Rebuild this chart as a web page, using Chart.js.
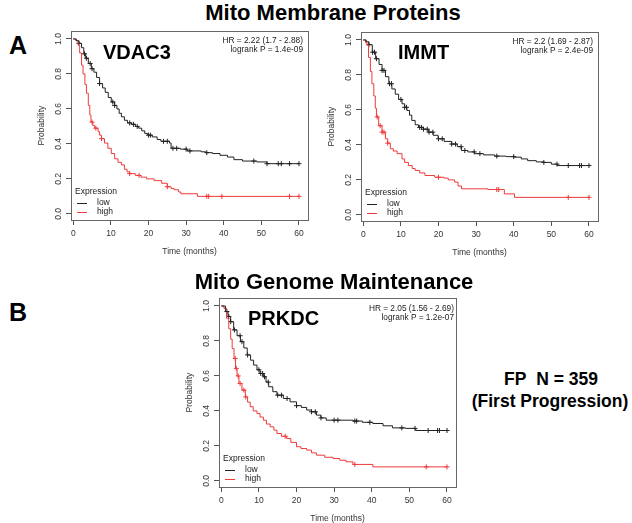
<!DOCTYPE html>
<html>
<head>
<meta charset="utf-8">
<script src="https://cdn.jsdelivr.net/npm/chart.js@4.4.1/dist/chart.umd.min.js"></script>
<style>
  body { margin: 0; width: 632px; height: 523px; background: #fff; position: relative; overflow: hidden;
         font-family: "Liberation Sans", Arial, sans-serif; }
  canvas { position: absolute; }
  .t { position: absolute; white-space: nowrap; line-height: 1; color: #000; font-weight: bold; }
  .c { transform: translate(-50%, -50%); }
  .l { transform: translate(0, -50%); }
  .hr { position: absolute; white-space: nowrap; line-height: 1; color: #222; font-size: 8.3px;
        transform: translate(-100%, -50%); text-align: right; }
</style>
</head>
<body>
<canvas id="vdac3" width="285" height="234" style="left:35px; top:25px;"></canvas>
<canvas id="immt" width="285" height="234" style="left:325px; top:26px;"></canvas>
<canvas id="prkdc" width="285" height="234" style="left:183px; top:292px;"></canvas>

<div class="t c" style="left:333px; top:13px; font-size:22px;">Mito Membrane Proteins</div>
<div class="t l" style="left:9px; top:45px; font-size:25px;">A</div>
<div class="t c" style="left:334px; top:282px; font-size:22px;">Mito Genome Maintenance</div>
<div class="t l" style="left:9px; top:312px; font-size:25px;">B</div>
<div class="t c" style="left:551px; top:380px; font-size:17.5px;">FP&nbsp; N = 359</div>
<div class="t c" style="left:550px; top:402px; font-size:17.5px;">(First Progression)</div>

<div class="t l" style="left:103px; top:52px; font-size:20px;">VDAC3</div>
<div class="t l" style="left:398px; top:52px; font-size:20px;">IMMT</div>
<div class="t l" style="left:248px; top:318px; font-size:20px;">PRKDC</div>

<div class="hr" style="left:303px; top:40px;">HR = 2.22 (1.7 - 2.88)</div>
<div class="hr" style="left:303px; top:49px;">logrank P = 1.4e-09</div>
<div class="hr" style="left:593px; top:41px;">HR = 2.2 (1.69 - 2.87)</div>
<div class="hr" style="left:593px; top:50px;">logrank P = 2.4e-09</div>
<div class="hr" style="left:454px; top:308px;">HR = 2.05 (1.56 - 2.69)</div>
<div class="hr" style="left:454px; top:317px;">logrank P = 1.2e-07</div>

<script>
// ticks and groups
const timeTicks = [0, 10, 20, 30, 40, 50, 60];
const probTicks = [0, 0.2, 0.4, 0.6, 0.8, 1.0];
const groups = ['low', 'high'];

// VDAC3 - survival steps (time in months, probability) and censor times
const vdac3LowT = [0, 0.8, 1.5, 2.2, 2.8, 3.3, 4.0, 4.8, 5.5, 6.2, 7.0, 7.8, 8.5, 9.3, 10.1, 11.0, 11.6, 12.2, 12.8, 13.6, 14.4, 15.5, 16.5, 17.4, 18.2, 19.0, 19.8, 21.0, 22.3, 23.3, 25.6, 26.0, 28.5, 30.3, 34.0, 35.2, 37.0, 39.0, 41.0, 42.7, 45.0, 48.8, 51.5, 60];
const vdac3LowS = [1, 0.99, 0.975, 0.95, 0.915, 0.89, 0.86, 0.83, 0.81, 0.78, 0.745, 0.72, 0.695, 0.665, 0.64, 0.62, 0.6, 0.575, 0.555, 0.535, 0.52, 0.512, 0.5, 0.49, 0.475, 0.46, 0.45, 0.44, 0.425, 0.415, 0.405, 0.375, 0.37, 0.36, 0.355, 0.35, 0.345, 0.335, 0.325, 0.31, 0.302, 0.297, 0.287, 0.287];
const vdac3LowCens = [1.5, 3, 3.5, 4.5, 5, 7, 10.5, 11, 15, 16, 17, 20, 20.5, 24, 25, 26.5, 27.5, 30, 31, 35.5, 48, 51.5, 54.5, 55.3, 57.5, 60];
const vdac3HighT = [0, 0.7, 1.3, 1.7, 2.2, 2.6, 3.1, 3.5, 4.0, 4.4, 4.7, 5.2, 5.7, 6.6, 7.0, 7.5, 8.3, 9.2, 10.1, 11.0, 11.9, 12.8, 13.6, 14.3, 15.0, 16.5, 18.0, 19.5, 21.5, 23.5, 25.0, 26.0, 26.8, 28.0, 28.6, 33.0, 60];
const vdac3HighS = [1, 0.99, 0.965, 0.92, 0.85, 0.8, 0.74, 0.69, 0.62, 0.565, 0.525, 0.505, 0.49, 0.47, 0.45, 0.43, 0.405, 0.375, 0.345, 0.315, 0.295, 0.28, 0.255, 0.24, 0.23, 0.22, 0.21, 0.2, 0.19, 0.175, 0.155, 0.145, 0.138, 0.125, 0.115, 0.1, 0.1];
const vdac3HighCens = [5, 6, 7.5, 15, 17.5, 25, 35.5, 36, 39.5, 57.5, 60];

// IMMT
const immtLowT = [0, 0.8, 1.5, 2.4, 3.3, 4.2, 5.0, 5.9, 6.8, 7.6, 8.5, 9.4, 10.3, 11.0, 11.6, 12.3, 12.9, 13.8, 14.7, 16.0, 17.3, 18.6, 19.9, 21.5, 23.5, 25.0, 26.1, 27.8, 29.6, 32.0, 34.9, 38.0, 40.2, 42.0, 43.7, 46.0, 48.0, 50.0, 51.6, 60];
const immtLowS = [1, 0.99, 0.973, 0.93, 0.893, 0.86, 0.826, 0.79, 0.75, 0.72, 0.69, 0.66, 0.635, 0.615, 0.597, 0.57, 0.54, 0.515, 0.5, 0.49, 0.473, 0.455, 0.435, 0.42, 0.405, 0.39, 0.368, 0.36, 0.35, 0.343, 0.336, 0.333, 0.33, 0.32, 0.31, 0.303, 0.3, 0.29, 0.282, 0.282];
const immtLowCens = [1.5, 2.5, 3, 3.5, 5, 5.5, 7, 7.5, 10, 11, 11.5, 15, 15.5, 16, 17, 17.5, 18.5, 20, 21, 23.5, 24.5, 26, 27, 29.5, 31, 35.5, 40, 48, 51.5, 54.5, 57.5, 58, 60];
const immtHighT = [0, 0.6, 1.0, 1.4, 1.9, 2.3, 2.8, 3.2, 3.5, 4.1, 5.0, 5.9, 6.5, 7.2, 8.0, 9.0, 10.3, 11.0, 12.0, 13.0, 13.8, 15.0, 16.4, 19.0, 21.5, 22.6, 24.3, 25.2, 26.1, 33.1, 37.5, 40.2, 60];
const immtHighS = [1, 0.985, 0.97, 0.9, 0.82, 0.75, 0.68, 0.61, 0.56, 0.51, 0.473, 0.435, 0.41, 0.378, 0.365, 0.35, 0.32, 0.3, 0.282, 0.265, 0.254, 0.24, 0.225, 0.215, 0.21, 0.2, 0.187, 0.165, 0.149, 0.145, 0.12, 0.1, 0.1];
const immtHighCens = [3.7, 4.5, 5, 5.5, 6.5, 20, 35.5, 36, 54.5, 60];

// PRKDC
const prkdcLowT = [0, 1.1, 1.8, 2.5, 3.3, 4.2, 5.1, 6.0, 6.9, 7.8, 8.6, 9.5, 10.3, 11.2, 11.9, 12.6, 13.7, 14.8, 16.5, 18.3, 20.0, 21.3, 22.7, 24.0, 25.3, 26.5, 27.9, 35.0, 37.5, 40.3, 43.0, 45.5, 49.0, 51.7, 60];
const prkdcLowS = [1, 0.968, 0.94, 0.91, 0.863, 0.83, 0.796, 0.76, 0.72, 0.69, 0.662, 0.635, 0.614, 0.595, 0.565, 0.538, 0.51, 0.49, 0.471, 0.452, 0.43, 0.42, 0.405, 0.395, 0.376, 0.36, 0.347, 0.342, 0.335, 0.328, 0.315, 0.303, 0.3, 0.288, 0.288];
const prkdcLowCens = [1.5, 2, 2.5, 3.5, 5, 5.5, 7, 10, 10.5, 11, 11.5, 12.5, 15, 16, 17.5, 20, 24, 25, 26.5, 30, 31, 35.5, 36, 39.5, 48, 51.5, 55, 57.5, 58, 60];
const prkdcHighT = [0, 0.7, 1.4, 2.0, 2.5, 2.9, 3.4, 3.8, 4.2, 4.7, 5.5, 6.4, 7.0, 7.7, 8.5, 9.5, 10.3, 11.2, 12.0, 13.0, 14.0, 14.8, 16.0, 17.4, 18.5, 20.0, 21.2, 22.7, 24.0, 25.3, 27.5, 29.7, 31.5, 33.2, 35.0, 40.3, 60];
const prkdcHighS = [1, 0.987, 0.93, 0.87, 0.81, 0.757, 0.7, 0.643, 0.6, 0.557, 0.519, 0.48, 0.45, 0.424, 0.4, 0.385, 0.365, 0.347, 0.325, 0.309, 0.29, 0.271, 0.255, 0.242, 0.22, 0.195, 0.185, 0.176, 0.16, 0.147, 0.135, 0.128, 0.118, 0.109, 0.094, 0.08, 0.08];
const prkdcHighCens = [3.7, 4, 4.5, 5, 6, 6.5, 17, 35.5, 54.5, 60];

const lowColor = '#222222';
const highColor = '#ee3b3b';
const axisFont = { family: '"Liberation Sans", Arial, sans-serif', size: 8.5 };

// value of the step curve at time t
function stepValue(ts, ss, t) {
    let v = ss[0];
    for (let i = 0; i < ts.length; i++) {
        if (ts[i] <= t) v = ss[i];
    }
    return v;
}

function curve(ts, ss) {
    return ts.map((t, i) => ({ x: t, y: ss[i] }));
}

function censors(ts, ss, cens) {
    return cens.map(t => ({ x: t, y: stepValue(ts, ss, t) }));
}

// box around plot area + R style legend in the corner
const rBox = {
    id: 'rBox',
    afterDraw(chart) {
        const ctx = chart.ctx;
        const a = chart.chartArea;
        ctx.save();
        ctx.strokeStyle = '#666';
        ctx.lineWidth = 1;
        ctx.strokeRect(Math.round(a.left) + 0.5, Math.round(a.top) + 0.5,
            Math.round(a.right - a.left), Math.round(a.bottom - a.top));

        ctx.font = '8.5px "Liberation Sans", Arial, sans-serif';
        ctx.textBaseline = 'middle';
        ctx.fillStyle = '#222';
        ctx.fillText('Expression', a.left + 4, a.bottom - 28);
        const cols = [lowColor, highColor];
        groups.forEach((g, i) => {
            const y = a.bottom - 17 + i * 9;
            ctx.strokeStyle = cols[i];
            ctx.beginPath();
            ctx.moveTo(a.left + 6, y + 0.5);
            ctx.lineTo(a.left + 16, y + 0.5);
            ctx.stroke();
            ctx.fillText(g, a.left + 26, y);
        });
        ctx.restore();
    }
};

function makeKM(id, lowT, lowS, lowC, highT, highS, highC) {
    const ctx = document.getElementById(id).getContext('2d');
    new Chart(ctx, {
        type: 'line',
        data: {
            datasets: [
                { label: groups[0], data: curve(lowT, lowS), borderColor: lowColor, borderWidth: 1,
                  stepped: true, pointRadius: 0, fill: false },
                { label: groups[1], data: curve(highT, highS), borderColor: highColor, borderWidth: 1,
                  stepped: true, pointRadius: 0, fill: false },
                { label: '', data: censors(lowT, lowS, lowC), showLine: false, pointStyle: 'cross',
                  pointRadius: 2.5, borderColor: lowColor, borderWidth: 1 },
                { label: '', data: censors(highT, highS, highC), showLine: false, pointStyle: 'cross',
                  pointRadius: 2.5, borderColor: highColor, borderWidth: 1 },
            ],
        },
        options: {
            responsive: false,
            animation: false,
            devicePixelRatio: 1,
            layout: { padding: { left: 0, top: 6, right: 12, bottom: 0 } },
            plugins: {
                legend: { display: false },
                tooltip: { enabled: false },
            },
            scales: {
                x: {
                    type: 'linear',
                    min: -0.6,
                    max: 62.4,
                    afterBuildTicks: s => { s.ticks = timeTicks.map(v => ({ value: v })); },
                    afterFit: s => { s.height = 39; },
                    grid: { drawOnChartArea: false, drawTicks: true, tickLength: 5, color: '#555' },
                    border: { display: false },
                    ticks: { font: axisFont, color: '#333', padding: 4, maxRotation: 0, autoSkip: false },
                    title: { display: true, text: 'Time (months)', font: axisFont, color: '#333', padding: 2 },
                },
                y: {
                    type: 'linear',
                    min: -0.035,
                    max: 1.045,
                    afterBuildTicks: s => { s.ticks = probTicks.map(v => ({ value: v })); },
                    afterFit: s => { s.width = 36; },
                    grid: { drawOnChartArea: false, drawTicks: true, tickLength: 5, color: '#555' },
                    border: { display: false },
                    ticks: { font: axisFont, color: '#333', padding: 1, minRotation: 90, maxRotation: 90,
                             crossAlign: 'center', autoSkip: false, callback: v => v.toFixed(1) },
                    title: { display: true, text: 'Probability', font: axisFont, color: '#333', padding: 2 },
                },
            },
        },
        plugins: [rBox],
    });
}

document.addEventListener('DOMContentLoaded', () => {
    makeKM('vdac3', vdac3LowT, vdac3LowS, vdac3LowCens, vdac3HighT, vdac3HighS, vdac3HighCens);
    makeKM('immt', immtLowT, immtLowS, immtLowCens, immtHighT, immtHighS, immtHighCens);
    makeKM('prkdc', prkdcLowT, prkdcLowS, prkdcLowCens, prkdcHighT, prkdcHighS, prkdcHighCens);
});
</script>
</body>
</html>
